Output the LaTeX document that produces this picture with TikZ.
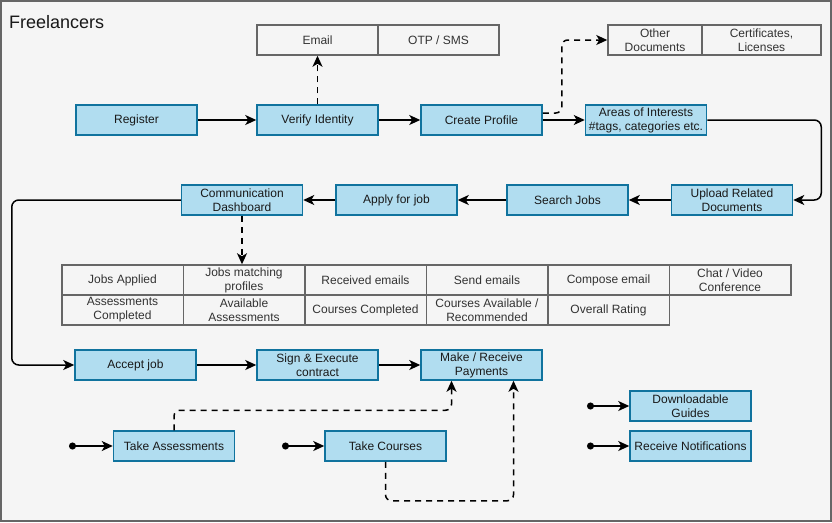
\documentclass[tikz,border=0pt]{standalone}
\usepackage{fontspec}
\setmainfont{Liberation Sans}
\usepackage{tikz}
\usetikzlibrary{arrows.meta,calc}
\definecolor{bluefill}{HTML}{B1DDF0}
\definecolor{bluedraw}{HTML}{10739E}
\definecolor{framegray}{HTML}{666666}
\definecolor{backgray}{HTML}{F5F5F5}
\definecolor{textgray}{HTML}{333333}
\tikzset{
>={Stealth[length=11pt,width=10pt,inset=3pt]},
step node/.style={rectangle,draw=bluedraw,fill=bluefill,line width=1.5pt,minimum width=121pt,minimum height=30pt,inner sep=1pt,align=center,text=black!90},
info node/.style={rectangle,draw=framegray,fill=backgray,line width=1.5pt,minimum width=121pt,minimum height=30pt,inner sep=1pt,align=center,text=textgray},
cell node/.style={info node,minimum width=121.5pt},
freccia/.style={->,line width=1.5pt},
tratteggio/.style={->,line width=1.5pt,dash pattern=on 6pt off 5pt,rounded corners=6pt},
curva/.style={->,line width=1.5pt,rounded corners=7pt},
pallino/.style={{Circle[length=7pt]}->,line width=1.5pt}}

\begin{document}
\begin{tikzpicture}[x=1pt,y=-1pt,font=\fontsize{12}{14}\selectfont]

\useasboundingbox (0,0) rectangle (832,522);
\draw[framegray,fill=backgray,line width=1.5pt] (1,1) rectangle (831,521);
\node[anchor=west,inner sep=0pt,font=\fontsize{18}{20}\selectfont,text=black!90] (title) at (9,22) {Freelancers};

% top row
\node[step node] (reg) at (136.5,120) {Register};
\node[step node] (ver) at (317.5,120) {Verify Identity};
\node[step node] (prof) at (481.5,120) {Create Profile};
\node[step node] (area) at (646,120) {Areas of Interests\\\#tags, categories etc.};

\node[info node] (email) at (317.5,40) {Email};
\node[info node] (otp) at (438.5,40) {OTP / SMS};
\node[info node,minimum width=94pt] (other) at (655,40) {Other\\Documents};
\node[info node,minimum width=119pt] (cert) at (761.5,40) {Certificates,\\Licenses};

% second row
\node[step node] (upl) at (732,200) {Upload Related\\Documents};
\node[step node] (search) at (567.5,200) {Search Jobs};
\node[step node] (apply) at (396.5,200) {Apply for job};
\node[step node] (dash) at (242,200) {Communication\\Dashboard};

% dashboard table
\node[cell node] (t1) at (122.5,280) {Jobs Applied};
\node[cell node] (t2) at (244,280) {Jobs matching\\profiles};
\node[cell node] (t3) at (365.5,280) {Received emails};
\node[cell node] (t4) at (487,280) {Send emails};
\node[cell node] (t5) at (608.5,280) {Compose email};
\node[cell node] (t6) at (730,280) {Chat / Video\\Conference};
\node[cell node] (t7) at (122.5,310) {Assessments\\Completed};
\node[cell node] (t8) at (244,310) {Available\\Assessments};
\node[cell node] (t9) at (365.5,310) {Courses Completed};
\node[cell node] (t10) at (487,310) {Courses Available /\\Recommended};
\node[cell node] (t11) at (608.5,310) {Overall Rating};

% third row
\node[step node] (accept) at (135.5,365) {Accept job};
\node[step node] (sign) at (317.5,365) {Sign \& Execute\\contract};
\node[step node] (pay) at (481.5,365) {Make / Receive\\Payments};

\node[step node] (assess) at (174,446) {Take Assessments};
\node[step node] (course) at (385.5,446) {Take Courses};
\node[step node] (guide) at (690.5,406) {Downloadable\\Guides};
\node[step node] (notif) at (690.5,446) {Receive Notifications};

\coordinate (p1) at (69,446);
\coordinate (p2) at (282,446);
\coordinate (p3) at (587,406);
\coordinate (p4) at (587,446);

\path[freccia] (reg) edge (ver);
\path[freccia] (ver) edge (prof);
\path[freccia] (prof) edge (area);
\path[freccia] (upl) edge (search);
\path[freccia] (search) edge (apply);
\path[freccia] (apply) edge (dash);
\path[freccia] (accept) edge (sign);
\path[freccia] (sign) edge (pay);

\draw[curva] (area.east) -- ++(114,0) |- (upl.east);
\draw[curva] (dash.west) -- ++(-169,0) |- (accept.west);

\draw[tratteggio] (ver.north) -- (email.south);
\draw[tratteggio] (dash.south) -- (t2.north -| dash.south);
\draw[tratteggio] ($(prof.east)+(0,-7)$) -- ++(19,0) |- (other.west);
\draw[tratteggio] (assess.north) -- ++(0,-20) -| ([xshift=-30pt]pay.south);
\draw[tratteggio] (course.south) -- ++(0,39) -| ([xshift=32pt]pay.south);

\draw[pallino] (p1) -- (assess);
\draw[pallino] (p2) -- (course);
\draw[pallino] (p3) -- (guide);
\draw[pallino] (p4) -- (notif);

\end{tikzpicture}
\end{document}
